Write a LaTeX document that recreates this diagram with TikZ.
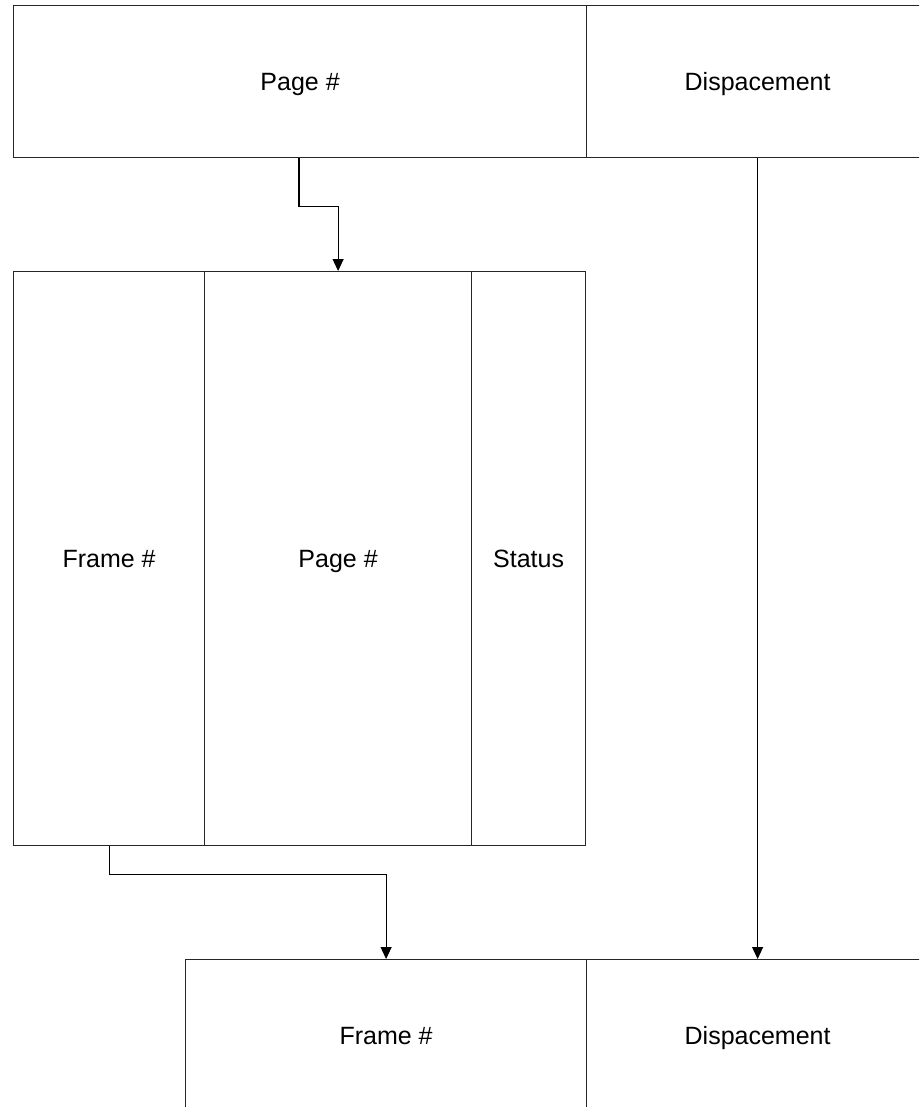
\documentclass[tikz,border=0pt]{standalone}
\usepackage{fontspec}
\setmainfont{Liberation Sans}
\usetikzlibrary{arrows.meta,calc}
\begin{document}
\begin{tikzpicture}[x=1pt,y=-1pt,
  cell/.style={draw=black!85,line width=1.2pt,anchor=north west,inner sep=0pt,
    text height=18pt,text depth=0pt,
    font=\fontsize{25}{30}\selectfont},
  arr/.style={draw=black,line width=1.1pt,-{Triangle[width=11pt,length=12pt]}}]
\useasboundingbox (0,0) rectangle (919,1107);
\clip (0,0) rectangle (919,1107);
% top address
\node[cell,minimum width=573pt,minimum height=152pt] (top1) at (13,5) {Page \#};
\node[cell,minimum width=342pt,minimum height=152pt] (top2) at (586,5) {Dispacement};
% page table
\node[cell,minimum width=191pt,minimum height=574pt] (mid1) at (13,271) {Frame \#};
\node[cell,minimum width=267pt,minimum height=574pt] (mid2) at (204,271) {Page \#};
\node[cell,minimum width=114pt,minimum height=574pt] (mid3) at (471,271) {Status};
% physical address
\node[cell,minimum width=401pt,minimum height=152pt] (bot1) at (185,959) {Frame \#};
\node[cell,minimum width=342pt,minimum height=152pt] (bot2) at (586,959) {Dispacement};
% connectors
\draw[arr] ([xshift=286pt]top1.south west) -- ++(0,48) -| (mid2.north);
\draw[arr] (mid1.south) -- ++(0,28) -| (bot1.north);
\draw[arr] (top2.south) -- (bot2.north);
\end{tikzpicture}
\end{document}
